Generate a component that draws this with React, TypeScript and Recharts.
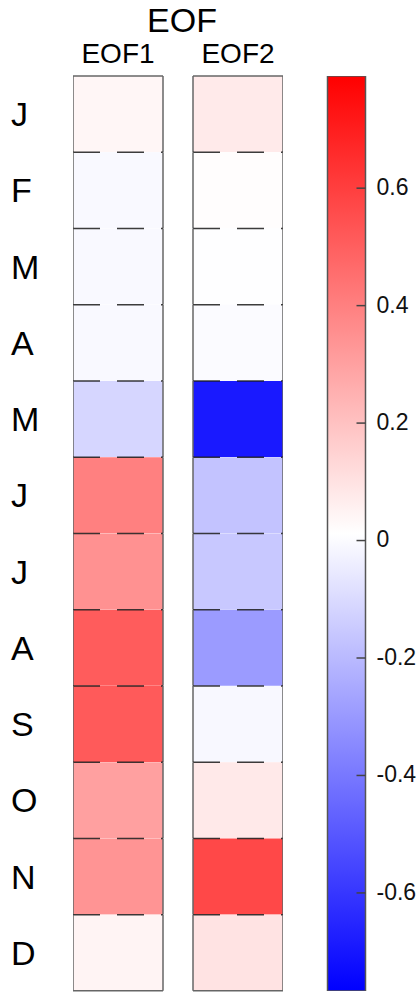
import React from 'react';
import { BarChart, Bar, XAxis, YAxis } from 'recharts';

const MONTHS = ['Jan', 'Feb', 'Mar', 'Apr', 'May', 'Jun', 'Jul', 'Aug', 'Sep', 'Oct', 'Nov', 'Dec'];
const MONTH_LABELS = ['J', 'F', 'M', 'A', 'M', 'J', 'J', 'A', 'S', 'O', 'N', 'D'];
const EOF1 = [0.039, -0.005, -0.005, -0.005, -0.113, 0.4, 0.348, 0.51, 0.516, 0.302, 0.339, 0.046];
const EOF2 = [0.076, 0.018, 0.01, 0.0, -0.691, -0.171, -0.156, -0.293, -0.01, 0.079, 0.571, 0.098];
const COLUMN_LABELS = ['EOF1', 'EOF2'];
const TITLE = 'EOF';
const CB_MIN = -0.767;
const CB_MAX = 0.791;
const CB_TICKS = [-0.6, -0.4, -0.2, 0, 0.2, 0.4, 0.6];

const GAP = 1 / 3;
const FONT = "Arial, 'Liberation Sans', sans-serif";
const BORDER = '#666666';

const rows = MONTHS.map((m, i) => ({ month: m, eof1: EOF1[i], eof2: EOF2[i] }));
const cbData = [{ name: 'cb', range: [CB_MIN, CB_MAX] }];

function colorFor(v: number): string {
  const t = Math.max(0, Math.min(1, (v - CB_MIN) / (CB_MAX - CB_MIN)));
  if (t >= 0.5) {
    const g = Math.round(255 * (2 - 2 * t));
    return `rgb(255,${g},${g})`;
  }
  const r = Math.round(255 * 2 * t);
  return `rgb(${r},${r},255)`;
}

const cellShape = (key: 'eof1' | 'eof2') => (props: any) => {
  const { x, y, width, height, index, payload } = props;
  const v = payload[key];
  const last = index === rows.length - 1;
  return (
    <g>
      <rect x={x} y={y} width={width} height={height} fill={colorFor(v)} stroke="none" />
      {index > 0 ? (
        <line x1={x} x2={x + width} y1={y} y2={y} stroke="#1a1a1a" strokeOpacity={0.85} strokeWidth={1.5} strokeDasharray="27 17" />
      ) : (
        <line x1={x} x2={x + width} y1={y} y2={y} stroke={BORDER} strokeWidth={1.5} />
      )}
      {last && <line x1={x} x2={x + width} y1={y + height} y2={y + height} stroke={BORDER} strokeWidth={1.5} />}
      <line x1={x} x2={x} y1={y} y2={y + height} stroke={BORDER} strokeWidth={1.5} />
      <line x1={x + width} x2={x + width} y1={y} y2={y + height} stroke={BORDER} strokeWidth={1.5} />
    </g>
  );
};

const CbTick = (props: any) => {
  const { x, y, payload } = props;
  return (
    <g>
      <line x1={x - 20} x2={x - 11} y1={y} y2={y} stroke="#444444" strokeWidth={1.5} />
      <text x={x} y={y} dy="0.3em" textAnchor="start" fontSize={23} fontFamily={FONT} fill="#111">
        {String(payload.value)}
      </text>
    </g>
  );
};

export default function App() {
  return (
    <div style={{ position: 'absolute', left: 0, top: 0, width: 420, height: 992, background: '#fff' }}>
      <div style={{ position: 'absolute', left: 0, top: 0 }}>
        <BarChart
          width={300}
          height={992}
          data={rows}
          layout="vertical"
          margin={{ top: 0, right: 17, bottom: 1, left: 0 }}
          barCategoryGap={0}
          barGap={0}
        >
          <XAxis
            type="number"
            orientation="top"
            domain={[0, 2 + GAP]}
            ticks={[0.5, 1.5 + GAP]}
            tickFormatter={(v: number) => (v < 1 ? COLUMN_LABELS[0] : COLUMN_LABELS[1])}
            height={76}
            axisLine={false}
            tickLine={false}
            tickSize={0}
            tickMargin={13}
            interval={0}
            allowDataOverflow
            tick={{ fontSize: 28, fill: '#000', fontFamily: FONT }}
            label={{ value: TITLE, position: 'insideTop', offset: 8, dx: 4, fontSize: 34, fill: '#000', fontFamily: FONT }}
          />
          <YAxis
            type="category"
            dataKey="month"
            width={73}
            axisLine={false}
            tickLine={false}
            tickSize={0}
            tickMargin={62}
            interval={0}
            tickFormatter={(m: string) => MONTH_LABELS[MONTHS.indexOf(m)]}
            tick={{ fontSize: 34, fill: '#000', fontFamily: FONT, textAnchor: 'start' }}
          />
          <Bar dataKey={() => 1} stackId="s" shape={cellShape('eof1')} isAnimationActive={false} />
          <Bar dataKey={() => GAP} stackId="s" fill="none" isAnimationActive={false} />
          <Bar dataKey={() => 1} stackId="s" shape={cellShape('eof2')} isAnimationActive={false} />
        </BarChart>
      </div>
      <div style={{ position: 'absolute', left: 300, top: 0 }}>
        <BarChart
          width={120}
          height={992}
          data={cbData}
          margin={{ top: 76, right: 0, bottom: 1, left: 27.5 }}
          barCategoryGap={0}
        >
          <defs>
            <linearGradient id="cbGrad" x1="0" y1="0" x2="0" y2="1">
              <stop offset="0" stopColor="#ff0000" />
              <stop offset="0.5" stopColor="#ffffff" />
              <stop offset="1" stopColor="#0000ff" />
            </linearGradient>
          </defs>
          <XAxis dataKey="name" hide />
          <YAxis
            type="number"
            orientation="right"
            domain={[CB_MIN, CB_MAX]}
            ticks={CB_TICKS}
            width={54.5}
            axisLine={false}
            tickLine={false}
            tickSize={0}
            tickMargin={11}
            interval={0}
            allowDataOverflow
            tick={<CbTick />}
          />
          <Bar dataKey="range" fill="url(#cbGrad)" stroke="#555555" strokeWidth={1.5} isAnimationActive={false} />
        </BarChart>
      </div>
    </div>
  );
}
